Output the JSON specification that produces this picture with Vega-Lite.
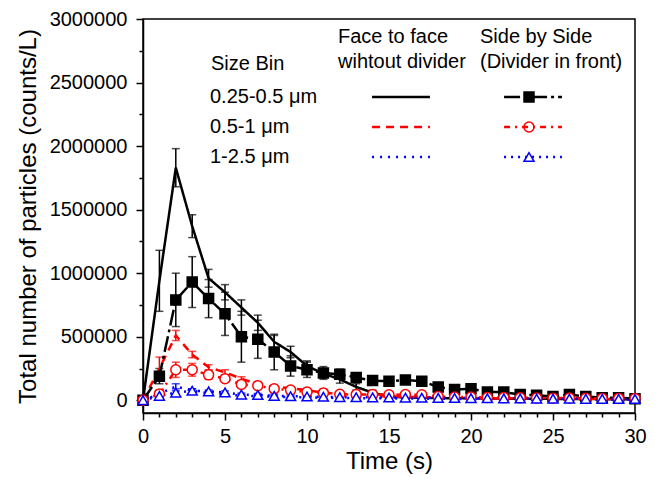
{
  "$schema": "https://vega.github.io/schema/vega-lite/v6.json",
  "width": 492,
  "height": 394,
  "autosize": {"type": "none"},
  "padding": {"left": 143, "top": 19, "right": 25, "bottom": 66},
  "background": "white",
  "config": {
    "font": "Liberation Sans",
    "view": {"stroke": "black", "strokeWidth": 1.5},
    "axis": {"domainColor": "black", "domainWidth": 1.5, "tickColor": "black", "tickWidth": 1.5, "labelColor": "black", "titleColor": "black", "labelFontSize": 20, "titleFontSize": 24, "titleFontWeight": "normal", "grid": false, "labelFont": "Liberation Sans", "titleFont": "Liberation Sans"},
    "legend": {"orient": "none", "padding": 0, "labelFontSize": 20, "titleFontSize": 20, "titleFontWeight": "normal", "labelColor": "black", "titleColor": "black", "labelFont": "Liberation Sans", "titleFont": "Liberation Sans", "titleLineHeight": 25, "rowPadding": 10}
  },
  "datasets": {
    "d": [
      {"t":0,"v":0,"e":0,"b":"0.25-0.5 μm","s":"F"},{"t":1,"v":940000,"e":240000,"b":"0.25-0.5 μm","s":"F"},{"t":2,"v":1830000,"e":150000,"b":"0.25-0.5 μm","s":"F"},{"t":3,"v":1370000,"e":90000,"b":"0.25-0.5 μm","s":"F"},{"t":4,"v":960000,"e":70000,"b":"0.25-0.5 μm","s":"F"},{"t":5,"v":850000,"e":60000,"b":"0.25-0.5 μm","s":"F"},{"t":6,"v":730000,"e":60000,"b":"0.25-0.5 μm","s":"F"},{"t":7,"v":610000,"e":60000,"b":"0.25-0.5 μm","s":"F"},{"t":8,"v":460000,"e":50000,"b":"0.25-0.5 μm","s":"F"},{"t":9,"v":380000,"e":45000,"b":"0.25-0.5 μm","s":"F"},{"t":10,"v":270000,"e":40000,"b":"0.25-0.5 μm","s":"F"},{"t":11,"v":210000,"e":35000,"b":"0.25-0.5 μm","s":"F"},{"t":12,"v":165000,"e":30000,"b":"0.25-0.5 μm","s":"F"},{"t":13,"v":105000,"e":25000,"b":"0.25-0.5 μm","s":"F"},{"t":14,"v":60000,"e":20000,"b":"0.25-0.5 μm","s":"F"},{"t":15,"v":30000,"e":15000,"b":"0.25-0.5 μm","s":"F"},{"t":16,"v":22000,"e":12000,"b":"0.25-0.5 μm","s":"F"},{"t":17,"v":20000,"e":12000,"b":"0.25-0.5 μm","s":"F"},{"t":18,"v":18000,"e":10000,"b":"0.25-0.5 μm","s":"F"},{"t":19,"v":16000,"e":10000,"b":"0.25-0.5 μm","s":"F"},{"t":20,"v":15000,"e":10000,"b":"0.25-0.5 μm","s":"F"},{"t":21,"v":14000,"e":10000,"b":"0.25-0.5 μm","s":"F"},{"t":22,"v":13000,"e":10000,"b":"0.25-0.5 μm","s":"F"},{"t":23,"v":12000,"e":8000,"b":"0.25-0.5 μm","s":"F"},{"t":24,"v":12000,"e":8000,"b":"0.25-0.5 μm","s":"F"},{"t":25,"v":11000,"e":8000,"b":"0.25-0.5 μm","s":"F"},{"t":26,"v":10000,"e":8000,"b":"0.25-0.5 μm","s":"F"},{"t":27,"v":10000,"e":8000,"b":"0.25-0.5 μm","s":"F"},{"t":28,"v":9000,"e":8000,"b":"0.25-0.5 μm","s":"F"},{"t":29,"v":8000,"e":8000,"b":"0.25-0.5 μm","s":"F"},{"t":30,"v":8000,"e":8000,"b":"0.25-0.5 μm","s":"F"},
      {"t":0,"v":0,"e":0,"b":"0.25-0.5 μm","s":"S"},{"t":1,"v":190000,"e":60000,"b":"0.25-0.5 μm","s":"S"},{"t":2,"v":790000,"e":210000,"b":"0.25-0.5 μm","s":"S"},{"t":3,"v":930000,"e":200000,"b":"0.25-0.5 μm","s":"S"},{"t":4,"v":800000,"e":150000,"b":"0.25-0.5 μm","s":"S"},{"t":5,"v":680000,"e":170000,"b":"0.25-0.5 μm","s":"S"},{"t":6,"v":500000,"e":200000,"b":"0.25-0.5 μm","s":"S"},{"t":7,"v":480000,"e":150000,"b":"0.25-0.5 μm","s":"S"},{"t":8,"v":380000,"e":140000,"b":"0.25-0.5 μm","s":"S"},{"t":9,"v":270000,"e":80000,"b":"0.25-0.5 μm","s":"S"},{"t":10,"v":240000,"e":60000,"b":"0.25-0.5 μm","s":"S"},{"t":11,"v":215000,"e":50000,"b":"0.25-0.5 μm","s":"S"},{"t":12,"v":205000,"e":40000,"b":"0.25-0.5 μm","s":"S"},{"t":13,"v":180000,"e":35000,"b":"0.25-0.5 μm","s":"S"},{"t":14,"v":155000,"e":30000,"b":"0.25-0.5 μm","s":"S"},{"t":15,"v":150000,"e":30000,"b":"0.25-0.5 μm","s":"S"},{"t":16,"v":160000,"e":30000,"b":"0.25-0.5 μm","s":"S"},{"t":17,"v":150000,"e":30000,"b":"0.25-0.5 μm","s":"S"},{"t":18,"v":105000,"e":25000,"b":"0.25-0.5 μm","s":"S"},{"t":19,"v":85000,"e":20000,"b":"0.25-0.5 μm","s":"S"},{"t":20,"v":90000,"e":20000,"b":"0.25-0.5 μm","s":"S"},{"t":21,"v":65000,"e":18000,"b":"0.25-0.5 μm","s":"S"},{"t":22,"v":65000,"e":18000,"b":"0.25-0.5 μm","s":"S"},{"t":23,"v":45000,"e":15000,"b":"0.25-0.5 μm","s":"S"},{"t":24,"v":40000,"e":15000,"b":"0.25-0.5 μm","s":"S"},{"t":25,"v":30000,"e":15000,"b":"0.25-0.5 μm","s":"S"},{"t":26,"v":45000,"e":15000,"b":"0.25-0.5 μm","s":"S"},{"t":27,"v":30000,"e":12000,"b":"0.25-0.5 μm","s":"S"},{"t":28,"v":20000,"e":12000,"b":"0.25-0.5 μm","s":"S"},{"t":29,"v":20000,"e":12000,"b":"0.25-0.5 μm","s":"S"},{"t":30,"v":13000,"e":10000,"b":"0.25-0.5 μm","s":"S"},
      {"t":0,"v":0,"e":0,"b":"0.5-1 μm","s":"F"},{"t":1,"v":250000,"e":90000,"b":"0.5-1 μm","s":"F"},{"t":2,"v":510000,"e":40000,"b":"0.5-1 μm","s":"F"},{"t":3,"v":360000,"e":25000,"b":"0.5-1 μm","s":"F"},{"t":4,"v":260000,"e":20000,"b":"0.5-1 μm","s":"F"},{"t":5,"v":220000,"e":20000,"b":"0.5-1 μm","s":"F"},{"t":6,"v":170000,"e":15000,"b":"0.5-1 μm","s":"F"},{"t":7,"v":125000,"e":15000,"b":"0.5-1 μm","s":"F"},{"t":8,"v":105000,"e":15000,"b":"0.5-1 μm","s":"F"},{"t":9,"v":95000,"e":12000,"b":"0.5-1 μm","s":"F"},{"t":10,"v":80000,"e":12000,"b":"0.5-1 μm","s":"F"},{"t":11,"v":60000,"e":10000,"b":"0.5-1 μm","s":"F"},{"t":12,"v":50000,"e":10000,"b":"0.5-1 μm","s":"F"},{"t":13,"v":40000,"e":10000,"b":"0.5-1 μm","s":"F"},{"t":14,"v":35000,"e":10000,"b":"0.5-1 μm","s":"F"},{"t":15,"v":30000,"e":8000,"b":"0.5-1 μm","s":"F"},{"t":16,"v":27000,"e":8000,"b":"0.5-1 μm","s":"F"},{"t":17,"v":25000,"e":8000,"b":"0.5-1 μm","s":"F"},{"t":18,"v":22000,"e":8000,"b":"0.5-1 μm","s":"F"},{"t":19,"v":20000,"e":8000,"b":"0.5-1 μm","s":"F"},{"t":20,"v":18000,"e":8000,"b":"0.5-1 μm","s":"F"},{"t":21,"v":17000,"e":6000,"b":"0.5-1 μm","s":"F"},{"t":22,"v":16000,"e":6000,"b":"0.5-1 μm","s":"F"},{"t":23,"v":15000,"e":6000,"b":"0.5-1 μm","s":"F"},{"t":24,"v":14000,"e":6000,"b":"0.5-1 μm","s":"F"},{"t":25,"v":13000,"e":6000,"b":"0.5-1 μm","s":"F"},{"t":26,"v":12000,"e":6000,"b":"0.5-1 μm","s":"F"},{"t":27,"v":12000,"e":6000,"b":"0.5-1 μm","s":"F"},{"t":28,"v":11000,"e":6000,"b":"0.5-1 μm","s":"F"},{"t":29,"v":10000,"e":6000,"b":"0.5-1 μm","s":"F"},{"t":30,"v":10000,"e":6000,"b":"0.5-1 μm","s":"F"},
      {"t":0,"v":0,"e":0,"b":"0.5-1 μm","s":"S"},{"t":1,"v":50000,"e":30000,"b":"0.5-1 μm","s":"S"},{"t":2,"v":240000,"e":60000,"b":"0.5-1 μm","s":"S"},{"t":3,"v":240000,"e":50000,"b":"0.5-1 μm","s":"S"},{"t":4,"v":200000,"e":35000,"b":"0.5-1 μm","s":"S"},{"t":5,"v":170000,"e":25000,"b":"0.5-1 μm","s":"S"},{"t":6,"v":125000,"e":20000,"b":"0.5-1 μm","s":"S"},{"t":7,"v":115000,"e":20000,"b":"0.5-1 μm","s":"S"},{"t":8,"v":90000,"e":15000,"b":"0.5-1 μm","s":"S"},{"t":9,"v":80000,"e":15000,"b":"0.5-1 μm","s":"S"},{"t":10,"v":65000,"e":12000,"b":"0.5-1 μm","s":"S"},{"t":11,"v":58000,"e":12000,"b":"0.5-1 μm","s":"S"},{"t":12,"v":47000,"e":10000,"b":"0.5-1 μm","s":"S"},{"t":13,"v":45000,"e":10000,"b":"0.5-1 μm","s":"S"},{"t":14,"v":45000,"e":10000,"b":"0.5-1 μm","s":"S"},{"t":15,"v":44000,"e":10000,"b":"0.5-1 μm","s":"S"},{"t":16,"v":45000,"e":10000,"b":"0.5-1 μm","s":"S"},{"t":17,"v":44000,"e":10000,"b":"0.5-1 μm","s":"S"},{"t":18,"v":30000,"e":10000,"b":"0.5-1 μm","s":"S"},{"t":19,"v":25000,"e":10000,"b":"0.5-1 μm","s":"S"},{"t":20,"v":25000,"e":10000,"b":"0.5-1 μm","s":"S"},{"t":21,"v":22000,"e":8000,"b":"0.5-1 μm","s":"S"},{"t":22,"v":22000,"e":8000,"b":"0.5-1 μm","s":"S"},{"t":23,"v":20000,"e":8000,"b":"0.5-1 μm","s":"S"},{"t":24,"v":18000,"e":8000,"b":"0.5-1 μm","s":"S"},{"t":25,"v":17000,"e":8000,"b":"0.5-1 μm","s":"S"},{"t":26,"v":18000,"e":8000,"b":"0.5-1 μm","s":"S"},{"t":27,"v":16000,"e":8000,"b":"0.5-1 μm","s":"S"},{"t":28,"v":15000,"e":8000,"b":"0.5-1 μm","s":"S"},{"t":29,"v":15000,"e":8000,"b":"0.5-1 μm","s":"S"},{"t":30,"v":14000,"e":8000,"b":"0.5-1 μm","s":"S"},
      {"t":0,"v":0,"e":0,"b":"1-2.5 μm","s":"F"},{"t":1,"v":50000,"e":20000,"b":"1-2.5 μm","s":"F"},{"t":2,"v":110000,"e":20000,"b":"1-2.5 μm","s":"F"},{"t":3,"v":75000,"e":15000,"b":"1-2.5 μm","s":"F"},{"t":4,"v":55000,"e":12000,"b":"1-2.5 μm","s":"F"},{"t":5,"v":45000,"e":10000,"b":"1-2.5 μm","s":"F"},{"t":6,"v":38000,"e":10000,"b":"1-2.5 μm","s":"F"},{"t":7,"v":32000,"e":8000,"b":"1-2.5 μm","s":"F"},{"t":8,"v":28000,"e":8000,"b":"1-2.5 μm","s":"F"},{"t":9,"v":25000,"e":8000,"b":"1-2.5 μm","s":"F"},{"t":10,"v":22000,"e":8000,"b":"1-2.5 μm","s":"F"},{"t":11,"v":20000,"e":8000,"b":"1-2.5 μm","s":"F"},{"t":12,"v":18000,"e":6000,"b":"1-2.5 μm","s":"F"},{"t":13,"v":17000,"e":6000,"b":"1-2.5 μm","s":"F"},{"t":14,"v":16000,"e":6000,"b":"1-2.5 μm","s":"F"},{"t":15,"v":15000,"e":6000,"b":"1-2.5 μm","s":"F"},{"t":16,"v":14000,"e":6000,"b":"1-2.5 μm","s":"F"},{"t":17,"v":13000,"e":6000,"b":"1-2.5 μm","s":"F"},{"t":18,"v":12000,"e":6000,"b":"1-2.5 μm","s":"F"},{"t":19,"v":11000,"e":6000,"b":"1-2.5 μm","s":"F"},{"t":20,"v":10000,"e":6000,"b":"1-2.5 μm","s":"F"},{"t":21,"v":9500,"e":6000,"b":"1-2.5 μm","s":"F"},{"t":22,"v":9000,"e":6000,"b":"1-2.5 μm","s":"F"},{"t":23,"v":8500,"e":6000,"b":"1-2.5 μm","s":"F"},{"t":24,"v":8000,"e":6000,"b":"1-2.5 μm","s":"F"},{"t":25,"v":7500,"e":6000,"b":"1-2.5 μm","s":"F"},{"t":26,"v":7000,"e":6000,"b":"1-2.5 μm","s":"F"},{"t":27,"v":6500,"e":6000,"b":"1-2.5 μm","s":"F"},{"t":28,"v":6000,"e":6000,"b":"1-2.5 μm","s":"F"},{"t":29,"v":5500,"e":6000,"b":"1-2.5 μm","s":"F"},{"t":30,"v":5000,"e":6000,"b":"1-2.5 μm","s":"F"},
      {"t":0,"v":0,"e":0,"b":"1-2.5 μm","s":"S"},{"t":1,"v":35000,"e":25000,"b":"1-2.5 μm","s":"S"},{"t":2,"v":60000,"e":15000,"b":"1-2.5 μm","s":"S"},{"t":3,"v":75000,"e":15000,"b":"1-2.5 μm","s":"S"},{"t":4,"v":70000,"e":12000,"b":"1-2.5 μm","s":"S"},{"t":5,"v":62000,"e":12000,"b":"1-2.5 μm","s":"S"},{"t":6,"v":45000,"e":12000,"b":"1-2.5 μm","s":"S"},{"t":7,"v":42000,"e":12000,"b":"1-2.5 μm","s":"S"},{"t":8,"v":35000,"e":12000,"b":"1-2.5 μm","s":"S"},{"t":9,"v":32000,"e":12000,"b":"1-2.5 μm","s":"S"},{"t":10,"v":30000,"e":12000,"b":"1-2.5 μm","s":"S"},{"t":11,"v":28000,"e":12000,"b":"1-2.5 μm","s":"S"},{"t":12,"v":25000,"e":12000,"b":"1-2.5 μm","s":"S"},{"t":13,"v":24000,"e":12000,"b":"1-2.5 μm","s":"S"},{"t":14,"v":23000,"e":12000,"b":"1-2.5 μm","s":"S"},{"t":15,"v":22000,"e":12000,"b":"1-2.5 μm","s":"S"},{"t":16,"v":21000,"e":12000,"b":"1-2.5 μm","s":"S"},{"t":17,"v":20000,"e":12000,"b":"1-2.5 μm","s":"S"},{"t":18,"v":19000,"e":12000,"b":"1-2.5 μm","s":"S"},{"t":19,"v":18000,"e":12000,"b":"1-2.5 μm","s":"S"},{"t":20,"v":17000,"e":12000,"b":"1-2.5 μm","s":"S"},{"t":21,"v":16000,"e":12000,"b":"1-2.5 μm","s":"S"},{"t":22,"v":15000,"e":12000,"b":"1-2.5 μm","s":"S"},{"t":23,"v":14000,"e":12000,"b":"1-2.5 μm","s":"S"},{"t":24,"v":13000,"e":12000,"b":"1-2.5 μm","s":"S"},{"t":25,"v":12500,"e":12000,"b":"1-2.5 μm","s":"S"},{"t":26,"v":12000,"e":12000,"b":"1-2.5 μm","s":"S"},{"t":27,"v":11500,"e":12000,"b":"1-2.5 μm","s":"S"},{"t":28,"v":11000,"e":12000,"b":"1-2.5 μm","s":"S"},{"t":29,"v":10500,"e":12000,"b":"1-2.5 μm","s":"S"},{"t":30,"v":10000,"e":12000,"b":"1-2.5 μm","s":"S"}
    ]
  },
  "data": {"name": "d"},
  "encoding": {
    "x": {"field": "t", "type": "quantitative", "scale": {"domain": [0, 30], "nice": false},
      "axis": {"title": "Time (s)", "values": [0,1,2,3,4,5,6,7,8,9,10,11,12,13,14,15,16,17,18,19,20,21,22,23,24,25,26,27,28,29,30],
        "labelExpr": "datum.value % 5 === 0 ? datum.label : ''",
        "tickSize": {"condition": {"test": "datum.value % 5 === 0", "value": 7}, "value": 4},
        "labelPadding": 6, "titlePadding": 3, "labelFlush": false}},
    "y": {"field": "v", "type": "quantitative", "scale": {"domain": [-100000, 3000000], "nice": false, "zero": false},
      "axis": {"title": "Total number of particles (counts/L)", "format": "d",
        "values": [0,250000,500000,750000,1000000,1250000,1500000,1750000,2000000,2250000,2500000,2750000,3000000],
        "labelExpr": "datum.value % 500000 === 0 ? datum.label : ''",
        "tickSize": {"condition": {"test": "datum.value % 500000 === 0", "value": 7}, "value": 4},
        "labelPadding": 9, "titlePadding": 9, "labelFlush": false}}
  },
  "layer": [
    {
      "transform": [{"filter": "datum.e > 0"}],
      "mark": {"type": "errorbar", "ticks": {"size": 8}, "thickness": 1.5},
      "encoding": {
        "yError": {"field": "e"},
        "color": {"field": "b", "type": "nominal", "scale": {"range": ["black", "#ff0000", "#0000ff"]},
          "legend": {"title": "Size Bin", "legendX": 68, "legendY": 35, "titlePadding": 13, "symbolOpacity": 0, "symbolStrokeWidth": 0, "symbolSize": 0, "labelOffset": -21}}
      }
    },
    {
      "transform": [{"filter": "datum.s === 'F'"}],
      "mark": {"type": "line", "strokeWidth": 2.5},
      "encoding": {
        "color": {"field": "b", "type": "nominal", "scale": {"range": ["black", "#ff0000", "#0000ff"]},
          "legend": {"title": ["Face to face", "wihtout divider"], "legendX": 195, "legendY": 8, "titlePadding": 15, "labelExpr": "''", "symbolType": "M-5,0L5,0", "symbolSize": 134, "symbolOffset": 53, "symbolStrokeWidth": 2.5}},
        "strokeDash": {"field": "b", "type": "nominal", "scale": {"range": [[1, 0], [8, 6], [2, 6]]},
          "legend": {"title": ["Face to face", "wihtout divider"], "legendX": 195, "legendY": 8, "titlePadding": 15, "labelExpr": "''", "symbolType": "M-5,0L5,0", "symbolSize": 134, "symbolOffset": 53, "symbolStrokeWidth": 2.5}}
      }
    },
    {
      "transform": [{"filter": "datum.s === 'S'"}],
      "mark": {"type": "line", "strokeWidth": 2.5},
      "encoding": {
        "color": {"field": "b", "type": "nominal", "scale": {"range": ["black", "#ff0000", "#0000ff"]},
          "legend": {"title": ["Side by Side", "(Divider in front)"], "legendX": 337, "legendY": 8, "titlePadding": 15, "labelExpr": "''", "symbolType": "M-5,0L5,0", "symbolSize": 134, "symbolOffset": 43, "symbolStrokeWidth": 2.5}},
        "strokeDash": {"field": "b", "type": "nominal", "scale": {"range": [[16, 4, 3, 4], [6, 5, 2, 5], [2, 5]]},
          "legend": {"title": ["Side by Side", "(Divider in front)"], "legendX": 337, "legendY": 8, "titlePadding": 15, "labelExpr": "''", "symbolType": "M-5,0L5,0", "symbolSize": 134, "symbolOffset": 43, "symbolStrokeWidth": 2.5}}
      }
    },
    {
      "transform": [{"filter": "datum.s === 'S'"}],
      "mark": {"type": "point", "filled": true, "size": 100, "strokeWidth": 1.5, "opacity": 1},
      "encoding": {
        "shape": {"field": "b", "type": "nominal", "scale": {"range": ["square", "circle", "triangle-up"]},
          "legend": {"title": null, "legendX": 376, "legendY": 68, "labelExpr": "''"}},
        "stroke": {"field": "b", "type": "nominal", "scale": {"range": ["black", "#ff0000", "#0000ff"]},
          "legend": {"title": null, "legendX": 376, "legendY": 68, "labelExpr": "''"}},
        "fill": {"field": "b", "type": "nominal", "scale": {"range": ["black", "white", "white"]},
          "legend": {"title": null, "legendX": 376, "legendY": 68, "labelExpr": "''"}}
      }
    }
  ],
  "resolve": {"scale": {"color": "independent", "strokeDash": "independent"}}
}
